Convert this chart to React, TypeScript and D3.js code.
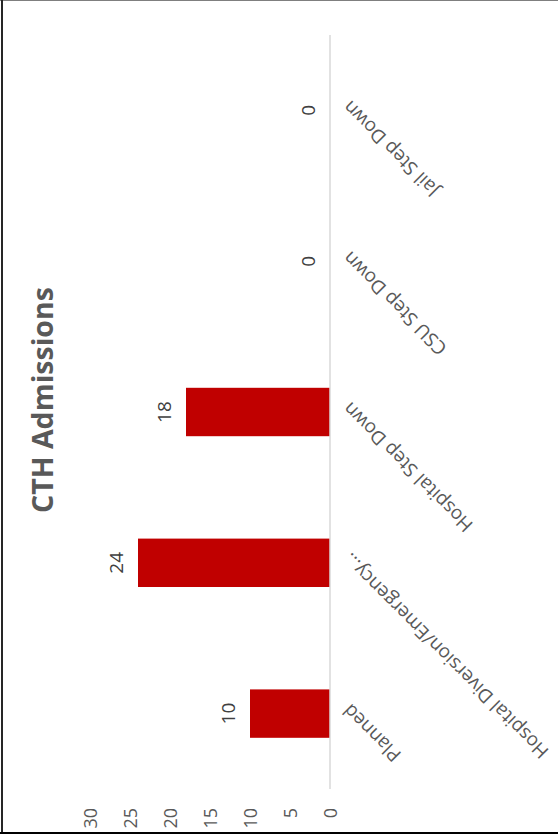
import React from "react";
import * as d3 from "d3";

const categories = ["Planned", "Hospital Diversion/Emergency…", "Hospital Step Down", "CSU Step Down", "Jail Step Down"];
const admissions = [10, 24, 18, 0, 0];
const valueTicks = [0, 5, 10, 15, 20, 25, 30];
const title = "CTH Admissions";

const W = 558;
const H = 840;
// chart is drawn in a landscape frame (840 x 558) and rotated -90deg
const FW = 840;

export default function App() {
  const x = d3
    .scaleBand<string>()
    .domain(categories)
    .range([51, 805])
    .paddingInner(0.679)
    .paddingOuter(0.3395);
  const y = d3.scaleLinear().domain([0, 30]).range([330, 90]);
  const font = "'Open Sans', sans-serif";
  const textColor = "#595959";

  return (
    <svg
      width={W}
      height={H}
      style={{ position: "absolute", left: 0, top: 0, background: "#fff" }}
    >
      <rect x={0} y={0} width={W} height={H} fill="#fff" />
      <g transform={`translate(0,${FW}) rotate(-90)`}>
        {/* title */}
        <text
          x={FW - 400}
          y={53}
          textAnchor="middle"
          fontFamily={font}
          fontWeight={700}
          fontSize={28.5}
          fill={textColor}
        >
          {title}
        </text>
        {/* bars */}
        {categories.map((c, i) => (
          <rect
            key={c}
            x={x(c)!}
            width={x.bandwidth()}
            y={y(admissions[i])}
            height={y(0) - y(admissions[i])}
            fill="#c00000"
          />
        ))}
        {/* category axis line */}
        <line x1={51} x2={805} y1={y(0)} y2={y(0)} stroke="#d9d9d9" strokeWidth={1.5} />
        {/* data labels */}
        {categories.map((c, i) => (
          <text
            key={c}
            x={x(c)! + x.bandwidth() / 2}
            y={y(admissions[i]) - 22}
            textAnchor="middle"
            dominantBaseline="central"
            fontFamily={font}
            fontSize={19}
            fill="#404040"
          >
            {admissions[i]}
          </text>
        ))}
        {/* value tick labels */}
        {valueTicks.map((v) => (
          <text
            key={v}
            x={32}
            y={y(v)}
            textAnchor="end"
            dominantBaseline="central"
            fontFamily={font}
            fontSize={18}
            fill={textColor}
          >
            {v}
          </text>
        ))}
        {/* category labels */}
        {categories.map((c) => {
          const cx = x(c)! + x.bandwidth() / 2 + 6;
          const cy = y(0) + 16;
          return (
            <text
              key={c}
              transform={`translate(${cx},${cy}) rotate(-45)`}
              textAnchor="end"
              dominantBaseline="central"
              fontFamily={font}
              fontSize={19}
              fill={textColor}
            >
              {c}
            </text>
          );
        })}
      </g>
      {/* frame */}
      <line x1={0} x2={W} y1={0.5} y2={0.5} stroke="#7f7f7f" strokeWidth={1} />
      <line x1={2} x2={2} y1={0} y2={834} stroke="#262626" strokeWidth={2} />
      <line x1={0} x2={W} y1={833} y2={833} stroke="#000" strokeWidth={2} />
    </svg>
  );
}
